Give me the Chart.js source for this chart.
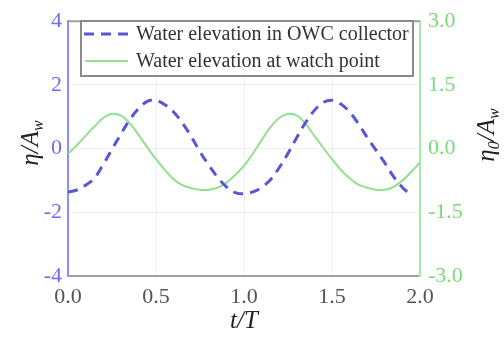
<!DOCTYPE html>
<html><head><meta charset="utf-8">
<script src="https://cdn.jsdelivr.net/npm/chart.js@4/dist/chart.umd.min.js"></script>
<style>html,body{margin:0;padding:0;background:#fff}#wrap{width:504px;height:343px;position:relative}</style>
</head><body><div id="wrap"><canvas id="c" width="504" height="343"></canvas></div>
<script>
const seriesNames = ["Water elevation in OWC collector", "Water elevation at watch point"];
const tCollector = [0,0.05,0.1,0.15,0.2,0.25,0.3,0.35,0.4,0.45,0.5,0.55,0.6,0.65,0.7,0.75,0.8,0.85,0.9,0.95,1.0,1.05,1.1,1.15,1.2,1.25,1.3,1.35,1.4,1.45,1.5,1.55,1.6,1.65,1.7,1.75,1.8,1.85,1.9,1.93];
const etaCollector = [-1.37,-1.30,-1.15,-0.93,-0.5,-0.02,0.45,0.9,1.25,1.48,1.52,1.38,1.15,0.8,0.38,-0.1,-0.52,-0.9,-1.2,-1.38,-1.42,-1.36,-1.22,-0.98,-0.6,-0.15,0.35,0.82,1.2,1.45,1.52,1.4,1.15,0.78,0.35,-0.05,-0.45,-0.88,-1.22,-1.37];
const tWatch = [0,0.05,0.1,0.15,0.2,0.25,0.3,0.35,0.4,0.45,0.5,0.55,0.6,0.65,0.7,0.75,0.8,0.85,0.9,0.95,1.0,1.05,1.1,1.15,1.2,1.25,1.3,1.35,1.4,1.45,1.5,1.55,1.6,1.65,1.7,1.75,1.8,1.85,1.9,1.95,2.0];
const etaWatch = [-0.12,0.08,0.3,0.52,0.72,0.82,0.78,0.6,0.33,0.03,-0.25,-0.5,-0.72,-0.86,-0.93,-0.97,-0.97,-0.92,-0.8,-0.62,-0.4,-0.12,0.2,0.5,0.72,0.82,0.78,0.58,0.3,0.02,-0.25,-0.5,-0.7,-0.85,-0.92,-0.97,-0.97,-0.9,-0.75,-0.55,-0.32];
const xTicks = [0, 0.5, 1.0, 1.5, 2.0];
const leftTicks = [-4, -2, 0, 2, 4];
const rightTicks = [-3.0, -1.5, 0.0, 1.5, 3.0];

const SERIF = '"Liberation Serif", "Times New Roman", serif';
const blueLine = '#5757d6', greenLine = '#8fe08f';
const blueAxis = '#8c8cff', greenAxis = '#a8eaa8';
const blueText = '#6c6cf0', greenText = '#7bd87b';

function richText(ctx, parts, cx, cy, rot) {
  ctx.save();
  ctx.translate(cx, cy);
  ctx.rotate(rot);
  ctx.textBaseline = 'alphabetic';
  ctx.textAlign = 'left';
  let w = 0;
  parts.forEach(p => { ctx.font = 'italic ' + p.size + 'px ' + SERIF; p.w = ctx.measureText(p.text).width; w += p.w; });
  let x = -w / 2;
  parts.forEach(p => { ctx.font = 'italic ' + p.size + 'px ' + SERIF; ctx.fillStyle = '#222'; ctx.fillText(p.text, x, 8 + (p.dy || 0)); x += p.w; });
  ctx.restore();
}

const decor = {
  id: 'decor',
  afterDatasetsDraw(chart) {
    const ctx = chart.ctx, a = chart.chartArea;
    ctx.save();
    ctx.strokeStyle = '#a0a0a0'; ctx.lineWidth = 2;
    ctx.beginPath(); ctx.moveTo(a.left, a.top); ctx.lineTo(a.right, a.top); ctx.stroke();
    const bx = 81, by = 21, bw = 332, bh = 55;
    ctx.fillStyle = '#fff'; ctx.fillRect(bx, by, bw, bh);
    ctx.strokeStyle = '#8a8a8a'; ctx.lineWidth = 2; ctx.strokeRect(bx, by, bw, bh);
    ctx.font = '20px ' + SERIF; ctx.fillStyle = '#333'; ctx.textBaseline = 'middle'; ctx.textAlign = 'left';
    ctx.strokeStyle = blueLine; ctx.lineWidth = 3; ctx.setLineDash([10, 7]);
    ctx.beginPath(); ctx.moveTo(84, 34); ctx.lineTo(132, 34); ctx.stroke();
    ctx.setLineDash([]);
    ctx.fillText(seriesNames[0], 136, 35);
    ctx.strokeStyle = greenLine; ctx.lineWidth = 2;
    ctx.beginPath(); ctx.moveTo(85, 61); ctx.lineTo(128, 61); ctx.stroke();
    ctx.fillText(seriesNames[1], 136, 62);
    ctx.restore();
    richText(ctx, [{text:'η', size:25}, {text:'/', size:25}, {text:'A', size:25}, {text:'w', size:16, dy:5}], 30, 143, -Math.PI/2);
    richText(ctx, [{text:'η', size:25}, {text:'0', size:16, dy:5}, {text:'/', size:25}, {text:'A', size:25}, {text:'w', size:16, dy:5}], 486, 135, -Math.PI/2);
    richText(ctx, [{text:'t', size:25}, {text:'/', size:25}, {text:'T', size:25}], 244, 320, 0);
  }
};

new Chart(document.getElementById('c'), {
  type: 'line',
  data: {
    datasets: [
      { label: seriesNames[0], data: tCollector.map((t, i) => ({x: t, y: etaCollector[i]})), yAxisID: 'y',
        borderColor: blueLine, borderWidth: 3, borderDash: [10, 7], pointRadius: 0, tension: 0.35, fill: false },
      { label: seriesNames[1], data: tWatch.map((t, i) => ({x: t, y: etaWatch[i]})), yAxisID: 'y1',
        borderColor: greenLine, borderWidth: 2, pointRadius: 0, tension: 0.35, fill: false }
    ]
  },
  options: {
    responsive: false, animation: false, devicePixelRatio: 1,
    layout: { padding: { top: 14, left: 0, right: 0, bottom: 0 } },
    plugins: { legend: { display: false }, tooltip: { enabled: false } },
    scales: {
      x: {
        type: 'linear', min: 0, max: 2, position: 'bottom',
        afterBuildTicks: s => { s.ticks = xTicks.map(v => ({value: v})); },
        afterFit: s => { s.height = 67; },
        ticks: { callback: v => v.toFixed(1), color: '#555', font: { family: SERIF, size: 22 }, padding: 8, maxRotation: 0 },
        grid: { color: 'rgba(0,0,0,0.06)', drawTicks: false },
        border: { color: '#a0a0a0', width: 2 }
      },
      y: {
        type: 'linear', min: -4, max: 4, position: 'left',
        afterBuildTicks: s => { s.ticks = leftTicks.map(v => ({value: v})); },
        afterFit: s => { s.width = 68; },
        ticks: { callback: v => String(v), color: blueText, font: { family: SERIF, size: 22 }, padding: 6 },
        grid: { color: 'rgba(0,0,0,0.06)', drawTicks: false },
        border: { color: blueAxis, width: 2 }
      },
      y1: {
        type: 'linear', min: -3, max: 3, position: 'right',
        afterBuildTicks: s => { s.ticks = rightTicks.map(v => ({value: v})); },
        afterFit: s => { s.width = 84; },
        ticks: { callback: v => v.toFixed(1), color: greenText, font: { family: SERIF, size: 22 }, padding: 8 },
        grid: { drawOnChartArea: false, drawTicks: false },
        border: { color: greenAxis, width: 2 }
      }
    }
  },
  plugins: [decor]
});
</script>
</body></html>
